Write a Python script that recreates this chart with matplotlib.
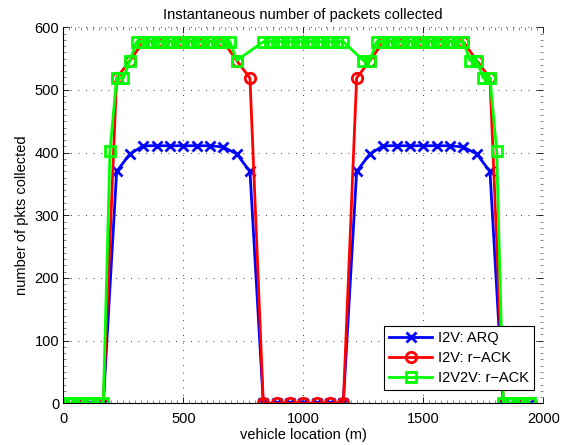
#!/usr/bin/env python3

import matplotlib
matplotlib.use("Agg")
import matplotlib.pyplot as plt
from matplotlib.ticker import MultipleLocator
import numpy as np

# road is sampled every 2000/36 m for the I2V runs, every 2000/72 m for I2V2V
i2v_step = 2000 / 36
i2v2v_step = 2000 / 72

arq_pkts = [
  0, 0, 0, 0, 370, 398, 411, 411, 411, 411, 411, 411, 409, 398, 370,
  0, 0, 0, 0, 0, 0, 0,
  370, 398, 411, 411, 411, 411, 411, 411, 409, 398, 370,
  0, 0, 0,
]

rack_pkts = [
  0, 0, 0, 0, 519, 547, 577, 577, 577, 577, 577, 577, 577, 547, 519,
  0, 0, 0, 0, 0, 0, 0,
  519, 547, 577, 577, 577, 577, 577, 577, 577, 547, 519,
  0, 0, 0,
]

# I2V2V samples (slot numbers along the road) and values
v2v_slots = list(range(0, 27)) + list(range(30, 43)) + list(range(45, 71))
v2v_pkts = (
  [0]*7 + [403, 519, 519, 547] + [577]*15 + [547]
  + [577]*13
  + [547, 547] + [577]*14 + [547, 547, 519, 519, 403] + [0]*5
)

labels = ["I2V: ARQ", "I2V: r\u2212ACK", "I2V2V: r\u2212ACK"]

plt.rcParams["font.family"] = ["Liberation Sans", "DejaVu Sans"]
fs = 10.5

fig = plt.figure(figsize=(5.74, 4.45), dpi=100)
ax = fig.add_axes([63.3/574, (445-403.3)/445, 480/574, 376/445])

x_i2v = np.arange(len(arq_pkts)) * i2v_step
x_v2v = np.array(v2v_slots) * i2v2v_step

ax.plot(x_i2v, arq_pkts, color="#0000ff", lw=2, marker="x",
        ms=6.5, mew=2, label=labels[0])
ax.plot(x_i2v, rack_pkts, color="#ff0000", lw=2, marker="o",
        ms=7.5, mew=2, mfc="none", label=labels[1])
ax.plot(x_v2v, v2v_pkts, color="#00ff00", lw=2, marker="s",
        ms=6.5, mew=2, mfc="none", label=labels[2])

ax.set_xlim(0, 2000)
ax.set_ylim(0, 600)
ax.xaxis.set_major_locator(MultipleLocator(500))
ax.yaxis.set_major_locator(MultipleLocator(100))
ax.xaxis.set_minor_locator(MultipleLocator(25))
ax.yaxis.set_minor_locator(MultipleLocator(10))
ax.tick_params(which="both", direction="in", top=True, right=True,
               labelsize=fs)
ax.tick_params(which="major", length=4, width=0.6)
ax.tick_params(which="minor", length=2, width=0.5, color="0.35")
ax.tick_params(axis="x", which="major", pad=6)
ax.tick_params(axis="y", which="major", pad=3)
for side in ["top", "right"]:
  ax.spines[side].set_visible(False)
for side in ["left", "bottom"]:
  ax.spines[side].set_linewidth(0.8)

ax.grid(True, which="major", color="black", lw=0.6,
        linestyle=(0, (1, 8)))
ax.set_axisbelow(True)

ax.set_title("Instantaneous number of packets collected", fontsize=fs, pad=6)
ax.set_xlabel("vehicle location (m)", fontsize=fs, labelpad=2)
ax.set_ylabel("number of pkts collected", fontsize=fs, labelpad=4)

leg = ax.legend(loc="lower right", bbox_to_anchor=(534/574, (445-390)/445),
                bbox_transform=fig.transFigure, borderaxespad=0,
                fontsize=fs, fancybox=False, framealpha=1,
                edgecolor="black", handlelength=2.95, labelspacing=0.4,
                borderpad=0.35, handletextpad=0.4)
leg.get_frame().set_linewidth(0.8)

fig.savefig("out.png", dpi=100)
